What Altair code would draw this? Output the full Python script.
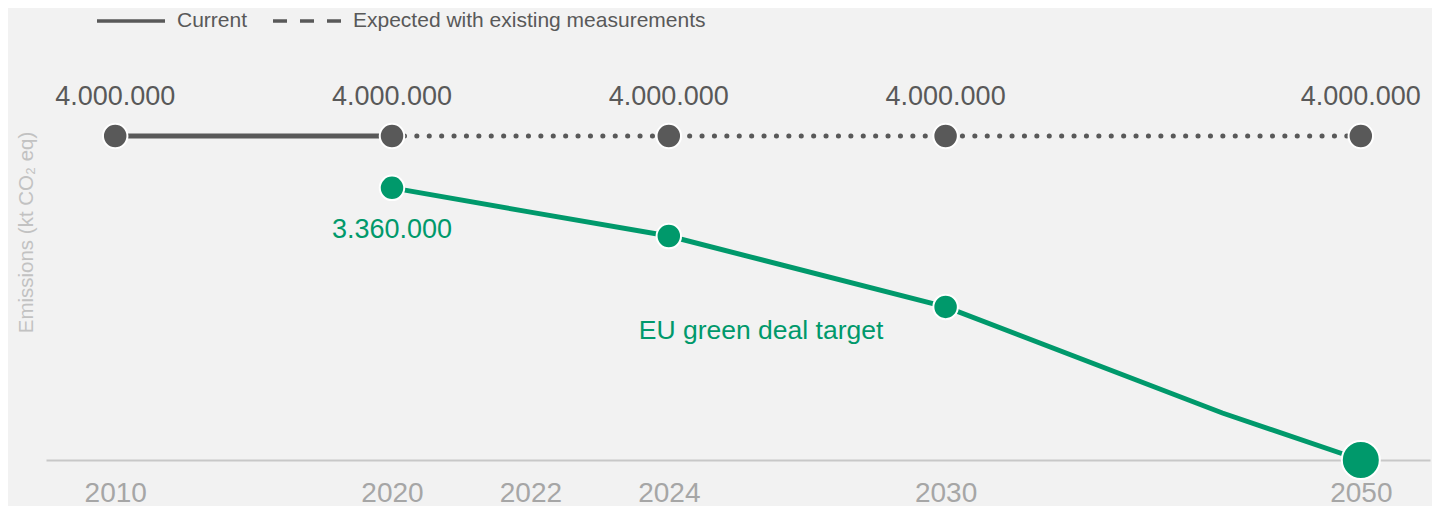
import altair as alt
import pandas as pd

# ---- data ----
years = ["2010", "2015", "2020", "2022", "2024", "2027", "2030", "2035", "2040", "2050"]
shown_years = ["2010", "2020", "2022", "2024", "2030", "2050"]
legend_labels = ["Current", "Expected with existing measurements"]

current_years = ["2010", "2015", "2020"]
current_values = [4000000, 4000000, 4000000]

expected_years = ["2020", "2022", "2024", "2027", "2030", "2040", "2050"]
expected_values = [4000000, 4000000, 4000000, 4000000, 4000000, 4000000, 4000000]

target_years = ["2020", "2022", "2024", "2030", "2040", "2050"]
target_values = [3360000, 3060000, 2765000, 1890000, 580000, 0]

gray_point_years = ["2010", "2020", "2024", "2030", "2050"]
gray_point_values = [4000000, 4000000, 4000000, 4000000, 4000000]

green_point_years = ["2020", "2024", "2030", "2050"]
green_point_values = [3360000, 2765000, 1890000, 0]

green_label_years = ["2020"]
green_label_values = [3360000]

annotation_text = ["EU green deal target"]
annotation_year = ["2024"]
annotation_value = [1590000]

GRAY = "#595959"
GREEN = "#00996b"
FONT = "Liberation Sans"


def fmt(v):
    return f"{v:,}".replace(",", ".")


current_df = pd.DataFrame({"year": current_years, "value": current_values, "series": legend_labels[0]})
expected_df = pd.DataFrame({"year": expected_years, "value": expected_values})
target_df = pd.DataFrame({"year": target_years, "value": target_values})
gray_pts = pd.DataFrame({"year": gray_point_years, "value": gray_point_values,
                         "label": [fmt(v) for v in gray_point_values]})
green_pts = pd.DataFrame({"year": green_point_years, "value": green_point_values})
green_lbl = pd.DataFrame({"year": green_label_years, "value": green_label_values,
                          "label": [fmt(v) for v in green_label_values]})
annot = pd.DataFrame({"year": annotation_year, "value": annotation_value, "label": annotation_text})

x_enc = alt.X("year:O",
              scale=alt.Scale(domain=years, type="point", padding=0.5),
              axis=alt.Axis(values=shown_years, title=None, labelAngle=0, ticks=False, grid=False,
                            domainColor="#c8c8c8", domainWidth=2, labelFontSize=28,
                            labelColor="#a6a6a6", labelFont=FONT, labelPadding=41,
                            labelBaseline="alphabetic"))
y_enc = alt.Y("value:Q",
              scale=alt.Scale(domain=[0, 5000000], nice=False, zero=True),
              axis=alt.Axis(title="Emissions (kt CO₂ eq)", labels=False, ticks=False, domain=False,
                            grid=False, titleFontSize=20.5, titleColor="#c2c2c2", titleFont=FONT,
                            titleFontWeight="normal", titleX=-20, titleY=177, titleAngle=270,
                            titleAlign="center", titleBaseline="middle"))

current_line = alt.Chart(current_df).mark_line(color=GRAY, strokeWidth=5).encode(
    x=x_enc, y=y_enc,
    strokeDash=alt.StrokeDash("series:N",
                              scale=alt.Scale(domain=legend_labels, range=[[1, 0], [14, 13]]),
                              legend=alt.Legend(title=None, orient="none", legendX=49, legendY=-70,
                                                direction="horizontal", symbolType="stroke",
                                                symbolSize=4624, symbolStrokeWidth=3.5,
                                                symbolStrokeColor=GRAY, labelFontSize=21,
                                                labelColor=GRAY, labelFont=FONT, labelLimit=0,
                                                columnPadding=18, labelOffset=10)),
)

expected_line = alt.Chart(expected_df).mark_line(
    color=GRAY, strokeWidth=5, strokeCap="round", strokeDash=[0.1, 12.3]
).encode(x=x_enc, y=y_enc)

target_line = alt.Chart(target_df).mark_line(color=GREEN, strokeWidth=5).encode(x=x_enc, y=y_enc)

gray_points = alt.Chart(gray_pts).mark_circle(
    color=GRAY, size=600, opacity=1, stroke="white", strokeWidth=2
).encode(x=x_enc, y=y_enc)

green_points = alt.Chart(green_pts).mark_circle(
    color=GREEN, opacity=1, stroke="white", strokeWidth=2
).encode(
    x=x_enc, y=y_enc,
    size=alt.condition("datum.year == '2050'", alt.value(1444), alt.value(600)),
)

gray_labels = alt.Chart(gray_pts).mark_text(
    color=GRAY, fontSize=27, font=FONT, dy=-39, align="center", baseline="middle"
).encode(x=x_enc, y=y_enc, text="label:N")

green_labels = alt.Chart(green_lbl).mark_text(
    color=GREEN, fontSize=27, font=FONT, dy=42, align="center", baseline="middle"
).encode(x=x_enc, y=y_enc, text="label:N")

annotation = alt.Chart(annot).mark_text(
    color=GREEN, fontSize=26.5, font=FONT, dx=-30, align="left", baseline="middle"
).encode(x=x_enc, y=y_enc, text="label:N")

chart = alt.layer(
    current_line, expected_line, target_line, gray_points, green_points,
    gray_labels, green_labels, annotation
).properties(
    width=1384, height=405,
    padding={"left": 38, "top": 47, "right": 2, "bottom": 46},
    autosize=alt.AutoSizeParams(type="none"),
    background="#f2f2f2",
).configure_view(stroke=None)

chart.save("out.html", embed_options={"renderer": "svg", "actions": False})
